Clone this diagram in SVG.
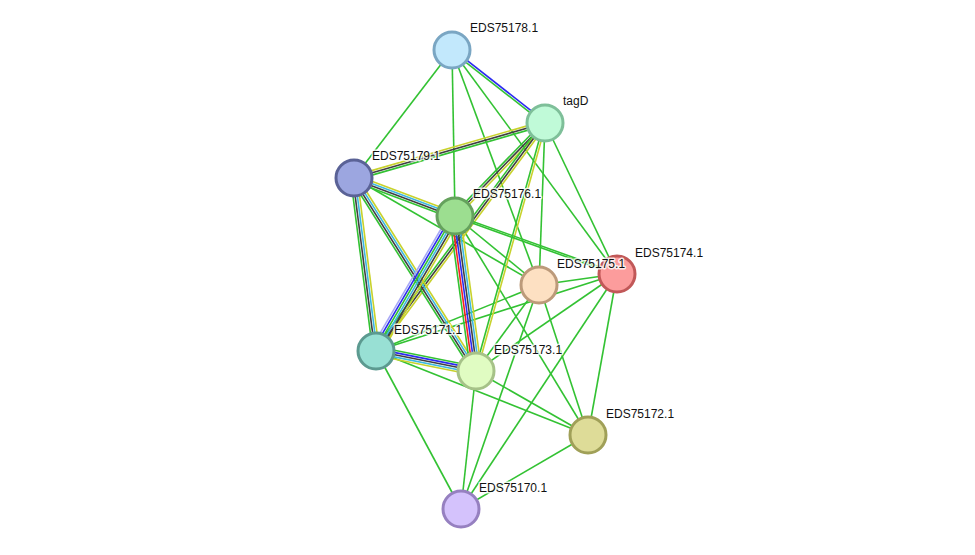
<svg xmlns="http://www.w3.org/2000/svg" width="975" height="555" viewBox="0 0 975 555">
<style>
.e line{stroke-width:1.6;fill:none}
.g{stroke:#33c233}
.y{stroke:#c8d22c}
.k{stroke:#404040}
.c{stroke:#3cb8e0}
.b{stroke:#2b2bf0}
.r{stroke:#f52222}
.p{stroke:#a8a8f5}
.n circle{stroke-width:3}
.n text{font-family:"Liberation Sans",Arial,sans-serif;font-size:12px;fill:#111;stroke:#fff;stroke-width:3;stroke-opacity:0.8;paint-order:stroke;stroke-linejoin:round}
</style>
<rect width="975" height="555" fill="#fff"/>
<g id="connectors" class="e">
<!-- single green edges -->
<line class="g" x1="452" y1="50" x2="354" y2="178"/>
<line class="g" x1="452" y1="50" x2="455" y2="216"/>
<line class="g" x1="452" y1="50" x2="539" y2="285"/>
<line class="g" x1="452" y1="50" x2="617" y2="274"/>
<line class="g" x1="545" y1="123" x2="539" y2="285"/>
<line class="g" x1="545" y1="123" x2="617" y2="274"/>
<line class="g" x1="354" y1="178" x2="539" y2="285"/>
<line class="g" x1="455" y1="216" x2="539" y2="285"/>
<line class="g" x1="455" y1="216" x2="588" y2="435"/>
<line class="g" x1="617" y1="274" x2="539" y2="285"/>
<line class="g" x1="617" y1="274" x2="376" y2="351"/>
<line class="g" x1="617" y1="274" x2="476" y2="371"/>
<line class="g" x1="617" y1="274" x2="461" y2="509"/>
<line class="g" x1="617" y1="274" x2="588" y2="435"/>
<line class="g" x1="539" y1="285" x2="376" y2="351"/>
<line class="g" x1="539" y1="285" x2="476" y2="371"/>
<line class="g" x1="539" y1="285" x2="588" y2="435"/>
<line class="g" x1="539" y1="285" x2="461" y2="509"/>
<line class="g" x1="376" y1="351" x2="588" y2="435"/>
<line class="g" x1="376" y1="351" x2="461" y2="509"/>
<line class="g" x1="476" y1="371" x2="588" y2="435"/>
<line class="g" x1="476" y1="371" x2="461" y2="509"/>
<line class="g" x1="588" y1="435" x2="461" y2="509"/>
<!-- multi edges -->
<g transform="translate(452,50) rotate(38.13)"><line class="g" x1="0" y1="1.1" x2="118.2" y2="1.1"/><line class="b" x1="0" y1="-1.1" x2="118.2" y2="-1.1"/></g>
<g transform="translate(545,123) rotate(163.94)"><line class="y" x1="0" y1="2.2" x2="198.8" y2="2.2"/><line class="k" x1="0" y1="0" x2="198.8" y2="0"/><line class="g" x1="0" y1="-2.2" x2="198.8" y2="-2.2"/></g>
<g transform="translate(545,123) rotate(134.06)"><line class="g" x1="0" y1="2.2" x2="129.4" y2="2.2"/><line class="k" x1="0" y1="0" x2="129.4" y2="0"/><line class="y" x1="0" y1="-2.2" x2="129.4" y2="-2.2"/></g>
<g transform="translate(545,123) rotate(126.55)"><line class="g" x1="0" y1="2.2" x2="283.8" y2="2.2"/><line class="k" x1="0" y1="0" x2="283.8" y2="0"/><line class="y" x1="0" y1="-2.2" x2="283.8" y2="-2.2"/></g>
<g transform="translate(545,123) rotate(105.55)"><line class="g" x1="0" y1="1.1" x2="257.4" y2="1.1"/><line class="y" x1="0" y1="-1.1" x2="257.4" y2="-1.1"/></g>
<g transform="translate(354,178) rotate(20.62)"><line class="y" x1="0" y1="-3.3" x2="107.9" y2="-3.3"/><line class="c" x1="0" y1="-1.1" x2="107.9" y2="-1.1"/><line class="k" x1="0" y1="1.1" x2="107.9" y2="1.1"/><line class="g" x1="0" y1="3.3" x2="107.9" y2="3.3"/></g>
<g transform="translate(354,178) rotate(82.75)"><line class="g" x1="0" y1="3.3" x2="174.4" y2="3.3"/><line class="k" x1="0" y1="1.1" x2="174.4" y2="1.1"/><line class="c" x1="0" y1="-1.1" x2="174.4" y2="-1.1"/><line class="y" x1="0" y1="-3.3" x2="174.4" y2="-3.3"/></g>
<g transform="translate(354,178) rotate(57.71)"><line class="g" x1="0" y1="3.3" x2="228.3" y2="3.3"/><line class="k" x1="0" y1="1.1" x2="228.3" y2="1.1"/><line class="c" x1="0" y1="-1.1" x2="228.3" y2="-1.1"/><line class="y" x1="0" y1="-3.3" x2="228.3" y2="-3.3"/></g>
<g transform="translate(455,216) rotate(120.33)"><line class="p" x1="0" y1="5.5" x2="156.4" y2="5.5"/><line class="b" x1="0" y1="3.3" x2="156.4" y2="3.3"/><line class="g" x1="0" y1="1.1" x2="156.4" y2="1.1"/><line class="c" x1="0" y1="-1.1" x2="156.4" y2="-1.1"/><line class="k" x1="0" y1="-3.3" x2="156.4" y2="-3.3"/><line class="y" x1="0" y1="-5.5" x2="156.4" y2="-5.5"/></g>
<g transform="translate(455,216) rotate(82.28)"><line class="g" x1="0" y1="5.5" x2="156.4" y2="5.5"/><line class="r" x1="0" y1="3.3" x2="156.4" y2="3.3"/><line class="b" x1="0" y1="1.1" x2="156.4" y2="1.1"/><line class="k" x1="0" y1="-1.1" x2="156.4" y2="-1.1"/><line class="c" x1="0" y1="-3.3" x2="156.4" y2="-3.3"/><line class="y" x1="0" y1="-5.5" x2="156.4" y2="-5.5"/></g>
<g transform="translate(376,351) rotate(11.31)"><line class="g" x1="0" y1="-4.4" x2="102" y2="-4.4"/><line class="b" x1="0" y1="-2.2" x2="102" y2="-2.2"/><line class="k" x1="0" y1="0" x2="102" y2="0"/><line class="c" x1="0" y1="2.2" x2="102" y2="2.2"/><line class="y" x1="0" y1="4.4" x2="102" y2="4.4"/></g>
<g transform="translate(455,216) rotate(19.70)"><line class="g" x1="0" y1="-0.9" x2="172.1" y2="-0.9"/><line class="g" x1="0" y1="0.9" x2="172.1" y2="0.9"/></g>
</g>
<g id="EDS75178.1" class="n"><circle cx="452" cy="50" r="18" fill="#c2e8fc" stroke="#7aa6c3"/><text x="470" y="32">EDS75178.1</text></g>
<g id="tagD" class="n"><circle cx="545" cy="123" r="18" fill="#c0fad8" stroke="#7ebf99"/><text x="563" y="105">tagD</text></g>
<g id="EDS75179.1" class="n"><circle cx="354" cy="178" r="18" fill="#9ca6e0" stroke="#5a6296"/><text x="372" y="160">EDS75179.1</text></g>
<g id="EDS75176.1" class="n"><circle cx="455" cy="216" r="18" fill="#9cde90" stroke="#65a25d"/><text x="473" y="198">EDS75176.1</text></g>
<g id="EDS75174.1" class="n"><circle cx="617" cy="274" r="18" fill="#fc9c9c" stroke="#c15858"/><text x="635" y="257">EDS75174.1</text></g>
<g id="EDS75175.1" class="n"><circle cx="539" cy="285" r="18" fill="#fde0c2" stroke="#bc9a7a"/><text x="557" y="268">EDS75175.1</text></g>
<g id="EDS75171.1" class="n"><circle cx="376" cy="351" r="18" fill="#98e0d4" stroke="#5c9a90"/><text x="394" y="334">EDS75171.1</text></g>
<g id="EDS75173.1" class="n"><circle cx="476" cy="371" r="18" fill="#e0fcc2" stroke="#a6c288"/><text x="494" y="354">EDS75173.1</text></g>
<g id="EDS75172.1" class="n"><circle cx="588" cy="435" r="18" fill="#dedc98" stroke="#a0a058"/><text x="606" y="418">EDS75172.1</text></g>
<g id="EDS75170.1" class="n"><circle cx="461" cy="509" r="18" fill="#d4c2fc" stroke="#9680c0"/><text x="479" y="492">EDS75170.1</text></g>
</svg>
